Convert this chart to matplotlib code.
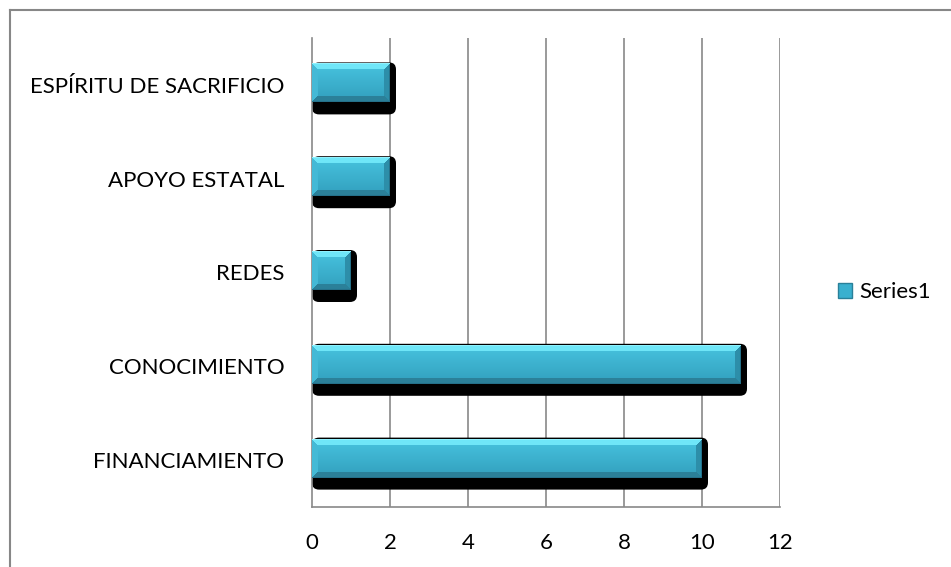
import numpy as np
import matplotlib
matplotlib.use("Agg")
import matplotlib.pyplot as plt
from matplotlib.patches import FancyBboxPatch, Patch
from matplotlib.lines import Line2D

categories = ["FINANCIAMIENTO", "CONOCIMIENTO", "REDES", "APOYO ESTATAL", "ESPÍRITU DE SACRIFICIO"]
values = [10, 11, 1, 2, 2]
xticks = [0, 2, 4, 6, 8, 10, 12]
series_name = "Series1"

plt.rcParams['font.family'] = ['Lato', 'DejaVu Sans']

W, H = 951, 567
fig = plt.figure(figsize=(W / 100, H / 100), dpi=100)
ax = fig.add_axes([312 / W, 60 / H, 468 / W, 469 / H])

ax.set_xlim(0, 12)
ax.set_ylim(-0.5, len(categories) - 0.5)

# pixel <-> data scale
px_x = 12 / 468.0
px_y = len(categories) / 469.0

grid_c = "#898989"
for t in xticks[1:]:
    ax.axvline(t, color=grid_c, lw=1.2, zorder=0)


def hexrgb(h):
    h = h.lstrip("#")
    return np.array([int(h[i:i + 2], 16) / 255.0 for i in (0, 2, 4)])


top_c = hexrgb("#6fe6f8")
body_top = hexrgb("#47c3df")
body_bot = hexrgb("#329fbd")
left_c = hexrgb("#44bad6")
right_c = hexrgb("#2d8ea9")
bot_c = hexrgb("#2b8099")


def bevel_image(w, h, b=6):
    # beveled bar face, w x h pixels
    img = np.zeros((h, w, 3))
    ii, jj = np.mgrid[0:h, 0:w]
    dt, db = ii, h - 1 - ii
    dl, dr = jj, w - 1 - jj
    frac = (ii / max(h - 1, 1))[..., None]
    img[:] = body_top * (1 - frac) + body_bot * frac
    d = np.stack([dt, db, dl, dr])
    m = d.min(axis=0)
    which = d.argmin(axis=0)
    edge = m < b
    for k, c in enumerate([top_c, bot_c, left_c, right_c]):
        sel = edge & (which == k)
        img[sel] = c
    # thin rim lines
    img[db == 0] = hexrgb("#25708a")
    img[dr == 0] = hexrgb("#25708a")
    img[dt == 0] = hexrgb("#8ff2ff")
    return img


bar_h = 39 * px_y
for i, v in enumerate(values):
    yc = i + 2 * px_y
    y0 = yc - bar_h / 2
    # drop shadow
    sh = FancyBboxPatch((0, y0 - 12 * px_y), v + 6 * px_x, bar_h + 13 * px_y,
                        boxstyle="round,pad=0,rounding_size=%f" % (7 * px_x),
                        mutation_aspect=px_y / px_x,
                        facecolor="black", edgecolor="none", zorder=2)
    ax.add_patch(sh)
    wpx = max(int(round(v / px_x)), 2)
    ax.imshow(bevel_image(wpx, 39), extent=(0, v, y0, y0 + bar_h),
              aspect="auto", interpolation="bilinear", zorder=3)

ax.set_xlim(0, 12)
ax.set_ylim(-0.5, len(categories) - 0.5)
ax.set_xticks(xticks)
ax.set_yticks(range(len(categories)))
ax.set_yticklabels(categories)
ax.tick_params(axis="both", length=0, labelsize=16, colors="black")
ax.tick_params(axis="x", pad=19)
ax.tick_params(axis="y", pad=20)
for s in ["top", "right"]:
    ax.spines[s].set_visible(False)
for s in ["left", "bottom"]:
    ax.spines[s].set_color(grid_c)
    ax.spines[s].set_linewidth(1.2)

handle = Patch(facecolor="#3ab0cf", edgecolor="#2a8099", linewidth=1)
fig.legend([handle], [series_name], loc="center left",
           bbox_to_anchor=(818 / W, 1 - 292 / H), frameon=False,
           handlelength=0.65, handleheight=0.65, handletextpad=0.3,
           fontsize=16)

# outer chart frame
fig.add_artist(Line2D([10 / W, 10 / W], [0, 1 - 10 / H], transform=fig.transFigure,
                      color="#878787", lw=1.5))
fig.add_artist(Line2D([10 / W, 1], [1 - 10 / H, 1 - 10 / H], transform=fig.transFigure,
                      color="#878787", lw=1.5))

fig.savefig("out.png", dpi=100)
